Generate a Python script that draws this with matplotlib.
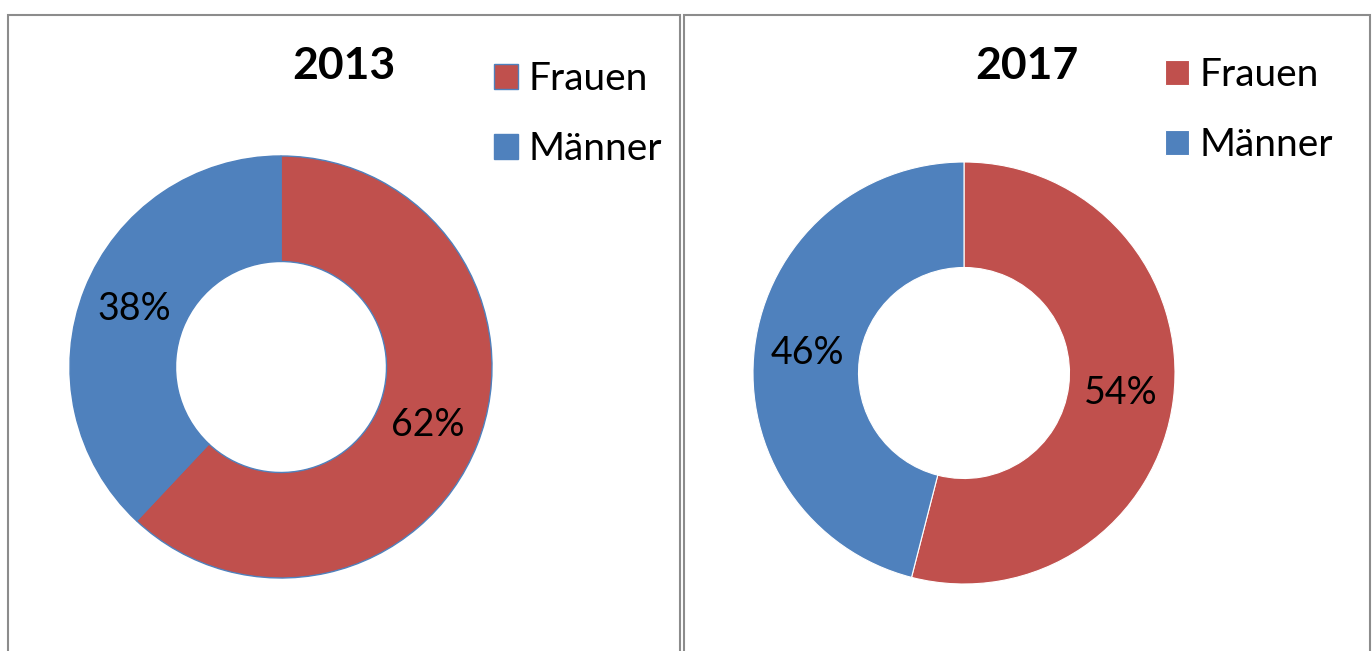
import matplotlib.pyplot as plt
from matplotlib.patches import Rectangle

plt.rcParams['font.family'] = ['Lato', 'DejaVu Sans']

# Data
labels = ['Frauen', 'Männer']
years = ['2013', '2017']
shares_2013 = [62, 38]
shares_2017 = [54, 46]
colors = ['#C0504D', '#4F81BD']

W, H = 1372, 651
fig = plt.figure(figsize=(W / 100, H / 100), dpi=100)

# Panel borders (pixel coords from top-left), cut off at the bottom
for x0, x1 in [(8, 680), (684, 1370)]:
    fig.patches.append(Rectangle((x0 / W, -0.05), (x1 - x0) / W, 1.05 - 15 / H,
                                 transform=fig.transFigure, fill=False,
                                 edgecolor='#8c8c8c', linewidth=1.5))

R = 211
panels = [
    (years[0], shares_2013, (281, 367), '#4F81BD', 1.0, (344, 66), (494, 61)),
    (years[1], shares_2017, (964, 373), 'white', 0.8, (1027, 66), (1165, 57)),
]

for year, vals, (cx, cy), edge, lw, (tx, ty), (lx, ly) in panels:
    ax = fig.add_axes([(cx - R) / W, (H - cy - R) / H, 2 * R / W, 2 * R / H])
    wedges, texts, autotexts = ax.pie(
        vals, colors=colors, startangle=90, counterclock=False,
        autopct='%.0f%%', pctdistance=0.75,
        wedgeprops=dict(width=0.5, edgecolor=edge, linewidth=lw),
        textprops=dict(fontsize=27, color='black'))
    ax.set_xlim(-1, 1)
    ax.set_ylim(-1, 1)
    ax.set_aspect('equal')
    ax.axis('off')

    fig.text(tx / W, 1 - ty / H, year, ha='center', va='center',
             fontsize=32, fontweight='bold')

    fig.legend(wedges, labels, loc='upper left',
               bbox_to_anchor=(lx / W, 1 - ly / H), frameon=False,
               fontsize=28, handlelength=0.62, handleheight=0.62,
               handletextpad=0.26, labelspacing=0.88,
               borderpad=0, borderaxespad=0)

fig.savefig('out.png', dpi=100)
